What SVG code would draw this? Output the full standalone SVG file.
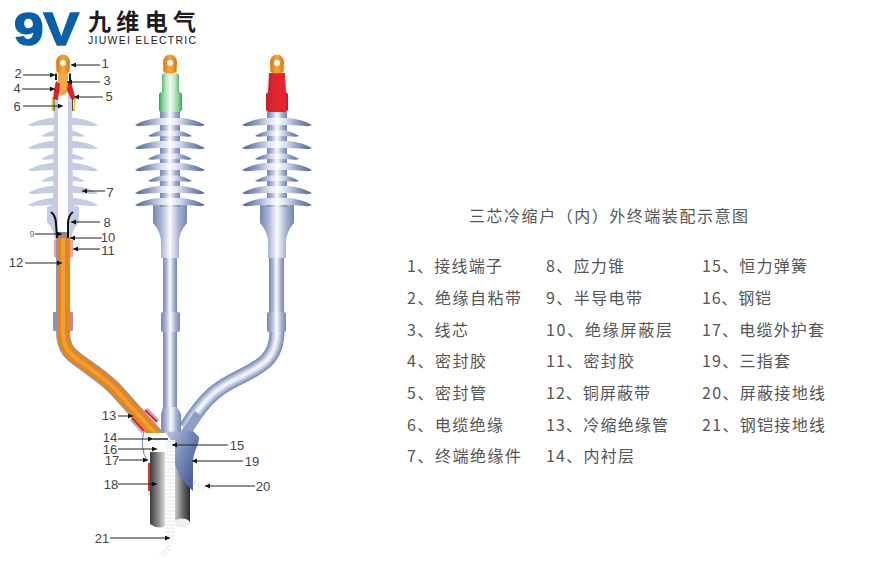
<svg xmlns="http://www.w3.org/2000/svg" width="891" height="586" viewBox="0 0 891 586">
<style>
text{font-family:"Noto Sans CJK SC","Liberation Sans",sans-serif;fill:#4a4a4a}
.t{font-size:16px;fill:#555}
.n{font-family:"Liberation Sans","Noto Sans CJK SC",sans-serif;font-size:13px;fill:#444;text-anchor:middle}
.c line{stroke:#222;stroke-width:1;marker-end:url(#ah)}
.p{fill:none}
.p1{stroke:#7f8fba;stroke-width:15}
.p2{stroke:#98a6c9;stroke-width:12}
.p3{stroke:#b6c1db;stroke-width:9}
.p4{stroke:#d3dbec;stroke-width:6}
.p5{stroke:#f0f3f9;stroke-width:3}
.braid{fill:none;stroke:#eff2f5;stroke-dasharray:2 1.500}
.flat{fill:#c5cbe2}
.body{fill:url(#gBody)}
.shed{fill:url(#gShed)}
</style>
<defs>
<marker id="ah" markerUnits="userSpaceOnUse" markerWidth="6" markerHeight="6" refX="5" refY="2.500" orient="auto"><path d="M0,0L5,2.500L0,5Z" fill="#111"/></marker>
<linearGradient id="gBody"><stop offset="0" stop-color="#7485b3"/><stop offset=".25" stop-color="#aab5d3"/><stop offset=".5" stop-color="#fbfcff"/><stop offset=".75" stop-color="#aab5d3"/><stop offset="1" stop-color="#7485b3"/></linearGradient>
<linearGradient id="gShed"><stop offset="0" stop-color="#52659a"/><stop offset=".2" stop-color="#8c9ac1"/><stop offset=".36" stop-color="#d3d9ea"/><stop offset=".5" stop-color="#fff"/><stop offset=".64" stop-color="#d3d9ea"/><stop offset=".8" stop-color="#8c9ac1"/><stop offset="1" stop-color="#52659a"/></linearGradient>
<linearGradient id="gOr"><stop offset="0" stop-color="#d9780f"/><stop offset=".5" stop-color="#f5a93c"/><stop offset="1" stop-color="#d9780f"/></linearGradient>
<linearGradient id="gGr"><stop offset="0" stop-color="#55b868"/><stop offset=".2" stop-color="#b5e3bd"/><stop offset=".5" stop-color="#f3faf4"/><stop offset=".8" stop-color="#b5e3bd"/><stop offset="1" stop-color="#55b868"/></linearGradient>
<linearGradient id="gGr2"><stop offset="0" stop-color="#2ea848"/><stop offset=".18" stop-color="#8fd59e"/><stop offset=".5" stop-color="#f3faf4"/><stop offset=".82" stop-color="#8fd59e"/><stop offset="1" stop-color="#2ea848"/></linearGradient>
<linearGradient id="gRd"><stop offset="0" stop-color="#c51f2b"/><stop offset=".4" stop-color="#e4252f"/><stop offset=".85" stop-color="#e4252f"/><stop offset="1" stop-color="#b81c28"/></linearGradient>
<linearGradient id="gCylL"><stop offset="0" stop-color="#3c3c3c"/><stop offset=".5" stop-color="#8a8a8a"/><stop offset="1" stop-color="#e8e8e8"/></linearGradient>
<linearGradient id="gCylR"><stop offset="0" stop-color="#c8c8c8"/><stop offset=".55" stop-color="#666"/><stop offset="1" stop-color="#2c2c2c"/></linearGradient>
<linearGradient id="gBlue" x1="0" y1="0" x2=".9" y2=".6"><stop offset="0" stop-color="#c5cde3"/><stop offset=".55" stop-color="#7d8fbb"/><stop offset="1" stop-color="#4c63a0"/></linearGradient>
<path id="big" d="M-35,2C-26,-3 -16,-5 -10,-5H10C16,-5 26,-3 35,2Q33,3.500 28,3Q16,2 10,2H-10Q-16,2 -28,3Q-33,3.500 -35,2Z"/>
<path id="small" d="M-22,2C-17,-1 -12,-3 -8,-3.500H8C12,-3 17,-1 22,2Q20,3 15,2.600Q10,2 8,2H-8Q-10,2 -15,2.600Q-20,3 -22,2Z"/>
<g id="sheds">
<use href="#big" y="123"/><use href="#small" y="134"/><use href="#big" y="146"/><use href="#small" y="157"/><use href="#big" y="168"/><use href="#small" y="179"/><use href="#big" y="191"/><use href="#big" y="203"/>
</g>
<path id="lug" d="M-7,-1A7,7.500 0 0 1 7,-1L6.500,9Q0,12 -6.500,9Z"/>
<clipPath id="cutEnd"><rect x="40" y="230" width="140" height="203"/></clipPath>
</defs>

<g id="logo">
<text x="14" y="45" font-size="47" font-weight="700" textLength="65" lengthAdjust="spacingAndGlyphs" style="font-family:'Liberation Sans',sans-serif;fill:#0a5fa9;stroke:#0a5fa9;stroke-width:1.600">9V</text>
<text x="88" y="30" font-size="23" font-weight="700" textLength="108" style="fill:#1c1c1c">九维电气</text>
<text x="88" y="44" font-size="10.500" textLength="108" style="font-family:'Liberation Sans',sans-serif;fill:#222">JIUWEI ELECTRIC</text>
</g>

<g id="armoured-cable">
<path d="M150,452H166V526Q158,530 150,524Z" fill="url(#gCylL)"/>
<rect x="175" y="455" width="15" height="68" fill="url(#gCylR)"/>
<ellipse cx="182" cy="523" rx="8" ry="4.500" fill="#eef0f0"/>
<rect x="148" y="463" width="2" height="28" fill="#d9312f"/>
</g>

<g id="branch-right">
<g class="p"><path id="br" class="p1" d="M277,331C277,358 262,366 242,376C222,386 208,392 186,428"/><path class="p2" d="M277,331C277,358 262,366 242,376C222,386 208,392 186,428"/><path class="p3" d="M277,331C277,358 262,366 242,376C222,386 208,392 186,428"/><path class="p4" d="M277,331C277,358 262,366 242,376C222,386 208,392 186,428"/><path class="p5" d="M277,331C277,358 262,366 242,376C222,386 208,392 186,428"/></g>
<rect class="body" x="269" y="257" width="15" height="57"/>
<rect class="body" x="267" y="312" width="19" height="20" rx="2"/>
</g>
<g id="branch-center">
<rect class="body" x="163" y="257" width="14" height="160"/>
<rect class="body" x="161" y="312" width="19" height="20" rx="2"/>
<path class="body" d="M163,407L177,407L181,414L181,433L161,433L161,414Z"/>
</g>
<g id="breakout">
<path d="M181,431L195,411L202,417L189,436Z" fill="#8f9ec4"/>
<path d="M165,432L193,431L199,437C199,446 193,452 193,462L193,491C176,475 172,460 172,442Z" fill="url(#gBlue)"/>
</g>

<g id="terminal-3">
<path class="body" d="M260,205L294,205L294,223Q286,232 286,243L286,258L268,258L268,243Q268,232 260,223Z"/>
<rect class="body" x="267" y="112" width="20" height="95"/>
<g class="shed" transform="translate(277,0)"><use href="#sheds"/></g>
<path d="M269,73H285L286,92L288,94V110L286,112H268L266,110V94L268,92Z" fill="url(#gRd)"/>
<use href="#lug" x="277" y="63" fill="url(#gOr)"/>
<circle cx="277" cy="63" r="3" fill="#fff"/>
</g>
<g id="terminal-2">
<path class="body" d="M153,205L187,205L187,223Q179,232 179,243L179,258L161,258L161,243Q161,232 153,223Z"/>
<rect class="body" x="160" y="112" width="20" height="95"/>
<g class="shed" transform="translate(170,0)"><use href="#sheds"/></g>
<path d="M162,92V75L164,73H177L179,75V92Z" fill="url(#gGr)"/>
<path d="M161,92H180L182,94V110L180,112H160L159,110V94Z" fill="url(#gGr2)"/>
<use href="#lug" x="170" y="63" fill="url(#gOr)"/>
<circle cx="170" cy="63" r="3" fill="#fff"/>
</g>

<g id="terminal-1">
<g class="flat" transform="translate(63,0)"><use href="#sheds"/></g>
<path class="flat" d="M54,93H72L73,205L79,207L79,222Q72,230 71,240L71,258H55L55,240Q54,230 47,222L47,207L53,205Z"/>
<rect x="58" y="92" width="10" height="141" fill="#fff"/>
<rect x="58" y="232" width="10" height="6" fill="#8c8c8c"/>
<rect x="54" y="240" width="3.500" height="17" fill="#e7a59a"/><rect x="69" y="240" width="4" height="17" fill="#e7a59a"/>
<path d="M51,212Q56,216 56,224L57,238" fill="none" stroke="#111" stroke-width="2"/>
<path d="M73,212Q68,215 68,224L68,238" fill="none" stroke="#111" stroke-width="2"/>
<path d="M58,73H68L68,92L62,96L58,92Z" fill="#f0a848"/>
<path d="M56,81L60,84L59,92L58,100L53,99L54,90Z" fill="#e21f26"/>
<path d="M68,82L71,82L74,93L76,100L71,99L67,90Z" fill="#e21f26"/>
<path d="M52.500,97L52.500,111" stroke="#e8c72a" stroke-width="1.600" fill="none"/><path d="M75,97L74,111" stroke="#e8c72a" stroke-width="1.600" fill="none"/>
<path d="M54,98L54,111M72.500,98L72.500,111" stroke="#222" stroke-width=".8" fill="none"/>
<path d="M56,73.500V80M70,73.500V82" stroke="#1a1a1a" stroke-width="2" fill="none"/>
<use href="#lug" x="63" y="63" fill="url(#gOr)"/>
<circle cx="63" cy="63" r="3" fill="#fff"/>
</g>
<g id="branch-left">
<path d="M63,238V331C63,352 73,356 88,367C100,376 108,381 117,391L160,439" fill="none" stroke="#8a97c0" stroke-width="14" clip-path="url(#cutEnd)"/>
<path d="M63,238V331C63,352 73,356 88,367C100,376 108,381 117,391L160,439" fill="none" stroke="#e4861b" stroke-width="12" clip-path="url(#cutEnd)"/>
<path d="M63,238V331C63,352 73,356 88,367C100,376 108,381 117,391L160,439" fill="none" stroke="#ee9f3a" stroke-width="4" clip-path="url(#cutEnd)"/>
<rect x="53" y="312" width="4" height="19" fill="#8d92b8"/><rect x="69" y="312" width="4" height="19" fill="#c08a96"/>
<path d="M146.500,409L158,421M131,419L143,432" stroke="#a9b5d6" stroke-width="3.500" fill="none"/>
<path d="M145,410L157,422M132,418L144,431" stroke="#e3222b" stroke-width="2" fill="none"/>
<path d="M143.500,432Q140,450 147,460" fill="none" stroke="#6e84c0" stroke-width="1"/>
</g>
<g id="ground-wires">
<path d="M170,440V540" stroke="#fff" stroke-width="10" fill="none"/>
<path class="braid" d="M170,440V540" stroke-width="9"/>
<path class="braid" d="M170,538L169,548L161,556" stroke-width="6"/>
<path class="braid" d="M194,482L205,490" stroke-width="5"/>
</g>

<g id="connectors" class="c">
<line x1="100" y1="65" x2="71" y2="65"/><line x1="23" y1="75" x2="55" y2="75"/><line x1="100" y1="82" x2="67" y2="82"/><line x1="22" y1="89" x2="55" y2="89"/><line x1="103" y1="97" x2="74" y2="97"/><line x1="23" y1="106" x2="63" y2="106"/>
<line x1="105" y1="191" x2="82" y2="191"/><line x1="100" y1="222" x2="71" y2="222"/><line x1="35" y1="234" x2="62" y2="234"/><line x1="102" y1="238" x2="70" y2="238"/><line x1="100" y1="249" x2="73" y2="249"/><line x1="25" y1="263" x2="62" y2="263"/>
<line x1="118" y1="416" x2="133" y2="416"/><line x1="118" y1="439" x2="153" y2="439"/><path d="M153,439H168" stroke="#222" stroke-width="1.500" fill="none"/><line x1="118" y1="449" x2="157" y2="449"/><line x1="119" y1="460" x2="148" y2="460"/><line x1="118" y1="484" x2="157" y2="484"/><line x1="110" y1="538" x2="170" y2="538"/>
<line x1="228" y1="445" x2="172" y2="445"/><line x1="243" y1="461" x2="192" y2="461"/><line x1="255" y1="486" x2="205" y2="486"/>
</g>

<g id="callouts">
<text class="n" x="105" y="68">1</text><text class="n" x="18" y="78">2</text><text class="n" x="107" y="85">3</text><text class="n" x="17" y="93">4</text><text class="n" x="109" y="101">5</text><text class="n" x="17" y="111">6</text>
<text class="n" x="110" y="197">7</text><text class="n" x="107" y="227">8</text><text class="n" x="32" y="237" style="font-size:9px;fill:#777">9</text><text class="n" x="108" y="242">10</text><text class="n" x="108" y="255">11</text><text class="n" x="16" y="267">12</text>
<text class="n" x="109" y="420">13</text><text class="n" x="110" y="442">14</text><text class="n" x="110" y="454">16</text><text class="n" x="112" y="465">17</text><text class="n" x="111" y="489">18</text><text class="n" x="102" y="543">21</text>
<text class="n" x="237" y="450">15</text><text class="n" x="252" y="466">19</text><text class="n" x="263" y="491">20</text>
</g>

<g id="legend">
<text class="t" x="469" y="222" textLength="279">三芯冷缩户（内）外终端装配示意图</text>
<text class="t" x="407" y="272" textLength="95">1、接线端子</text>
<text class="t" x="407" y="304" textLength="114">2、绝缘自粘带</text>
<text class="t" x="407" y="336" textLength="61">3、线芯</text>
<text class="t" x="407" y="367" textLength="79">4、密封胶</text>
<text class="t" x="407" y="399" textLength="79">5、密封管</text>
<text class="t" x="407" y="431" textLength="96">6、电缆绝缘</text>
<text class="t" x="407" y="462" textLength="114">7、终端绝缘件</text>
<text class="t" x="546" y="272" textLength="78">8、应力锥</text>
<text class="t" x="546" y="304" textLength="96">9、半导电带</text>
<text class="t" x="546" y="336" textLength="126">10、绝缘屏蔽层</text>
<text class="t" x="546" y="367" textLength="88">11、密封胶</text>
<text class="t" x="546" y="399" textLength="104">12、铜屏蔽带</text>
<text class="t" x="546" y="431" textLength="122">13、冷缩绝缘管</text>
<text class="t" x="546" y="462" textLength="88">14、内衬层</text>
<text class="t" x="702" y="272" textLength="105">15、恒力弹簧</text>
<text class="t" x="702" y="304" textLength="69">16、钢铠</text>
<text class="t" x="702" y="336" textLength="122">17、电缆外护套</text>
<text class="t" x="702" y="367" textLength="88">19、三指套</text>
<text class="t" x="702" y="399" textLength="123">20、屏蔽接地线</text>
<text class="t" x="702" y="431" textLength="123">21、钢铠接地线</text>
</g>
</svg>
